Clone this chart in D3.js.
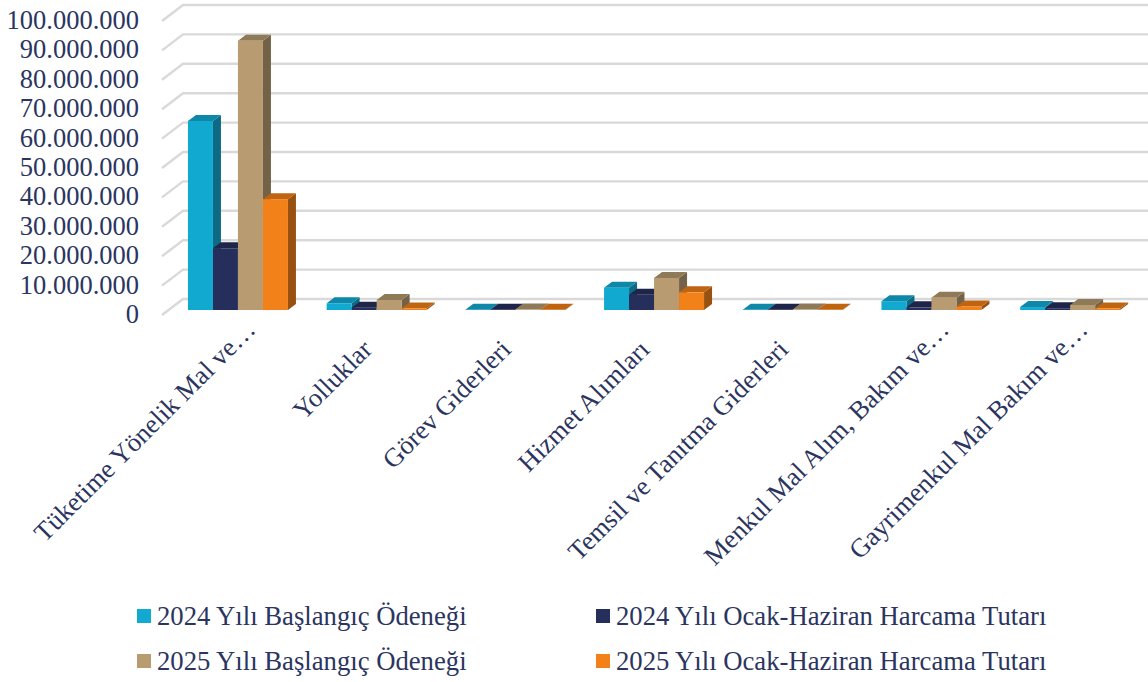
<!DOCTYPE html>
<html><head><meta charset="utf-8">
<script src="https://cdnjs.cloudflare.com/ajax/libs/d3/7.8.5/d3.min.js"></script>
<style>html,body{margin:0;background:#fff}svg{display:block}text{font-family:"Liberation Serif",serif;fill:#2b3560}</style>
</head><body><svg id="c" width="1148" height="682"></svg>
<script>
const categories=["Tüketime Yönelik Mal ve…","Yolluklar","Görev Giderleri","Hizmet Alımları","Temsil ve Tanıtma Giderleri","Menkul Mal Alım, Bakım ve…","Gayrimenkul Mal Bakım ve…"];
const seriesNames=["2024 Yılı Başlangıç Ödeneği","2024 Yılı Ocak-Haziran Harcama Tutarı","2025 Yılı Başlangıç Ödeneği","2025 Yılı Ocak-Haziran Harcama Tutarı"];
const s2024Budget=[64300000,2300000,100000,7600000,100000,3000000,1000000];
const s2024Spent=[21000000,800000,100000,5200000,100000,900000,600000];
const s2025Budget=[91600000,3400000,150000,10900000,150000,4200000,1700000];
const s2025Spent=[37700000,500000,100000,6000000,100000,1200000,500000];
const seriesValues=[s2024Budget,s2024Spent,s2025Budget,s2025Spent];
const frontColors=["#12a9d0","#262e5b","#b89b70","#f28119"];
const sideColors=["#0c6a85","#1a2040","#736248","#985110"];
const topColors=["#0e87a8","#1e2549","#8f7a58","#bf6512"];
const tickValues=d3.range(0,100000001,10000000);

const svg=d3.select("#c");
const y=d3.scaleLinear().domain([0,100000000]).range([310,16]);
const x=d3.scaleBand().domain(categories).range([168.6,1139.5]);
const inner=d3.scaleBand().domain(d3.range(4)).range([0,100]);
const dx=8,dy=-6;
const gridFront=162,gridBack=183,gridRise=16,gridDrop=5;

const grid=svg.append("g");
tickValues.forEach(t=>{
  const yf=y(t)+gridDrop;
  grid.append("path").attr("d",`M${gridFront},${yf}L${gridBack},${yf-gridRise}L1148,${yf-gridRise}`)
    .attr("fill","none").attr("stroke","#d9d9d9").attr("stroke-width",2.4);
});

const fmt=d=>d3.format(",")(d).replace(/,/g,".");
const ax=svg.append("g").attr("transform","translate(139,0)")
  .call(d3.axisLeft(y).tickValues(tickValues).tickFormat(fmt).tickSize(0).tickPadding(0));
ax.select(".domain").remove();
ax.selectAll("text").attr("font-size",26.5).attr("dy","0.36em").attr("transform","translate(0,3)");

const bars=svg.append("g");
categories.forEach((c,i)=>{
  const gx=x(c)+(x.bandwidth()-100)/2;
  seriesValues.forEach((vals,s)=>{
    const x0=gx+inner(s),x1=x0+inner.bandwidth(),yt=y(vals[i]),yb=y(0);
    const g=bars.append("g");
    g.append("path").attr("fill",sideColors[s])
      .attr("d",`M${x1},${yt}L${x1+dx},${yt+dy}L${x1+dx},${yb+dy}L${x1},${yb}Z`);
    g.append("path").attr("fill",topColors[s])
      .attr("d",`M${x0},${yt}L${x0+dx},${yt+dy}L${x1+dx},${yt+dy}L${x1},${yt}Z`);
    g.append("rect").attr("x",x0).attr("y",yt).attr("width",inner.bandwidth()).attr("height",Math.max(0,yb-yt)).attr("fill",frontColors[s]);
  });
});

const xa=svg.append("g");
categories.forEach(c=>{
  const cut=c.endsWith("…");
  const px=x(c)+x.bandwidth()/2+(cut?19:-3);
  const py=cut?331:351;
  xa.append("text").text(c).attr("font-size",26.5).attr("text-anchor","end")
    .attr("transform",`translate(${px},${py}) rotate(-45)`);
});

const legendX=[136,595],legendY=[617,662];
seriesNames.forEach((n,i)=>{
  const lx=legendX[i%2],ly=legendY[Math.floor(i/2)];
  svg.append("rect").attr("x",lx+1).attr("y",ly-8).attr("width",14).attr("height",14).attr("fill",frontColors[i]);
  svg.append("text").text(n).attr("x",lx+21).attr("y",ly+8).attr("font-size",26.7);
});
</script></body></html>
